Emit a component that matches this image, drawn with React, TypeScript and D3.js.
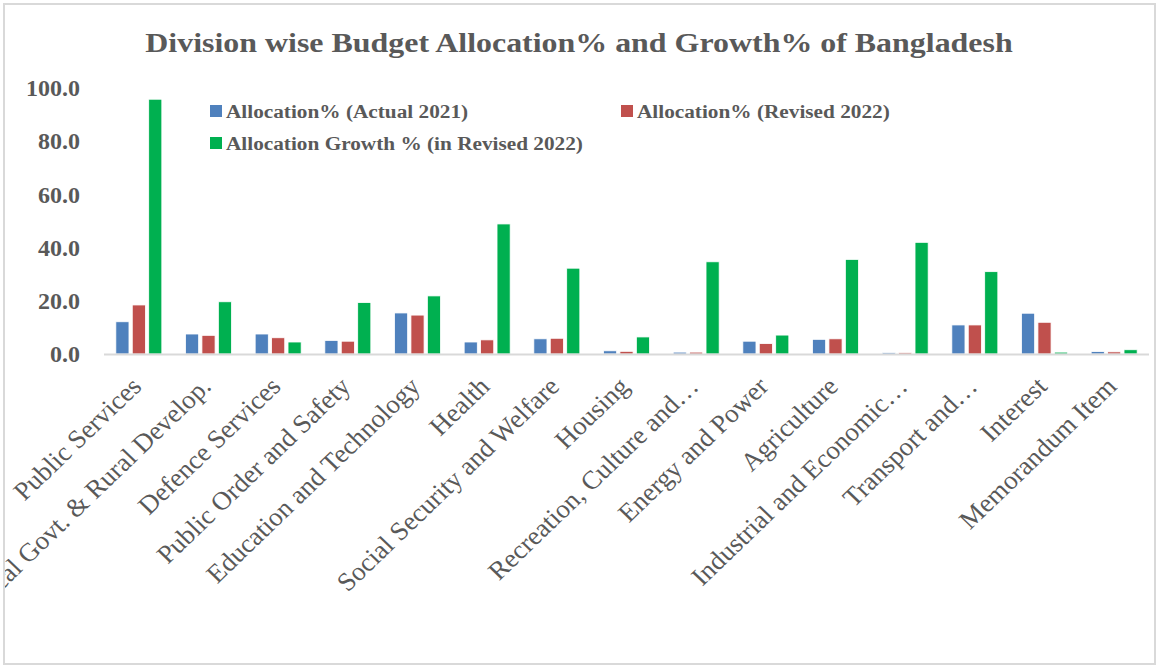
import React from "react";
import * as d3 from "d3";

const categories = [
  "Public Services",
  "Local Govt. & Rural Develop.",
  "Defence Services",
  "Public Order and Safety",
  "Education and Technology",
  "Health",
  "Social Security and Welfare",
  "Housing",
  "Recreation, Culture and…",
  "Energy and Power",
  "Agriculture",
  "Industrial and Economic…",
  "Transport and…",
  "Interest",
  "Memorandum Item",
];

const actual2021 = [12.1, 7.5, 7.5, 5.1, 15.4, 4.5, 5.7, 1.2, 0.7, 4.8, 5.5, 0.5, 10.9, 15.3, 0.9];
const revised2022 = [18.4, 7.0, 6.1, 4.8, 14.6, 5.3, 5.9, 1.0, 0.7, 3.9, 5.7, 0.5, 10.9, 11.9, 0.8];
const growth2022 = [95.6, 19.6, 4.5, 19.3, 21.8, 48.8, 32.2, 6.4, 34.6, 7.1, 35.5, 41.9, 30.9, 0.7, 1.6];

const seriesNames = [
  "Allocation% (Actual 2021)",
  "Allocation% (Revised 2022)",
  "Allocation Growth % (in Revised 2022)",
];
const seriesColors = ["#4f81bd", "#c0504d", "#00b050"];
const yTicks = [0, 20, 40, 60, 80, 100];

const W = 1157;
const H = 666;
const plotLeft = 104;
const plotRight = 1149;
const plotTop = 87.5;
const plotBottom = 354;

export default function App() {
  const x = d3.scaleBand<string>().domain(categories).range([plotLeft, plotRight]).paddingInner(0).paddingOuter(0);
  const x1 = d3
    .scaleBand<number>()
    .domain([0, 1, 2])
    .range([0, 46])
    .paddingInner(0.2);
  const y = d3.scaleLinear().domain([0, 100]).range([plotBottom, plotTop]);
  const series = [actual2021, revised2022, growth2022];
  const groupW = 46;
  const textColor = "#595959";
  const serif = "'Liberation Serif', 'Times New Roman', serif";

  return (
    <svg
      width={W}
      height={H}
      style={{ position: "absolute", left: 0, top: 0, background: "#fff" }}
      fontFamily={serif}
    >
      <defs>
        <clipPath id="frameClip">
          <rect x={5} y={5} width={1149} height={658} />
        </clipPath>
      </defs>
      <rect x={0} y={0} width={W} height={H} fill="#fff" />
      <text
        transform={`translate(579,52) scale(1.14,1)`}
        textAnchor="middle"
        fontSize={28}
        fontWeight="bold"
        fill={textColor}
      >
        Division wise Budget Allocation% and Growth% of Bangladesh
      </text>

      {yTicks.map((t) => (
        <text
          key={t}
          x={80}
          y={y(t)}
          dy="0.35em"
          textAnchor="end"
          fontSize={24}
          fontWeight="bold"
          fill={textColor}
        >
          {d3.format(".1f")(t)}
        </text>
      ))}

      {categories.map((c, i) => {
        const gx = (x(c) as number) + x.bandwidth() / 2 - groupW / 2;
        return (
          <g key={c}>
            {series.map((s, k) => (
              <rect
                key={k}
                x={gx + (x1(k) as number)}
                y={y(s[i])}
                width={x1.bandwidth()}
                height={plotBottom - y(s[i])}
                fill={seriesColors[k]}
                stroke="#ffffff"
                strokeWidth={0.8}
              />
            ))}
          </g>
        );
      })}

      <line x1={plotLeft} x2={plotRight} y1={plotBottom + 0.5} y2={plotBottom + 0.5} stroke="#d9d9d9" strokeWidth={2} />

      <g clipPath="url(#frameClip)">
        {categories.map((c) => {
          const cx = (x(c) as number) + x.bandwidth() / 2;
          const ax = cx + 4;
          const ay = 388;
          return (
            <text
              key={c}
              textAnchor="end"
              fontSize={26}
              fill={textColor}
              transform={`translate(${ax},${ay}) scale(1.04,1) rotate(-45)`}
            >
              {c}
            </text>
          );
        })}
      </g>

      {[
        { k: 0, lx: 210, ly: 111 },
        { k: 1, lx: 621, ly: 111 },
        { k: 2, lx: 210, ly: 143 },
      ].map(({ k, lx, ly }) => (
        <g key={k}>
          <rect x={lx} y={ly - 6} width={12} height={12} fill={seriesColors[k]} />
          <text
            transform={`translate(${lx + 16},${ly}) scale(1.12,1)`}
            dy="0.35em"
            fontSize={19}
            fontWeight="bold"
            fill={textColor}
          >
            {seriesNames[k]}
          </text>
        </g>
      ))}

      <rect x={4} y={4} width={1151} height={660} fill="none" stroke="#d9d9d9" strokeWidth={2} />
    </svg>
  );
}
